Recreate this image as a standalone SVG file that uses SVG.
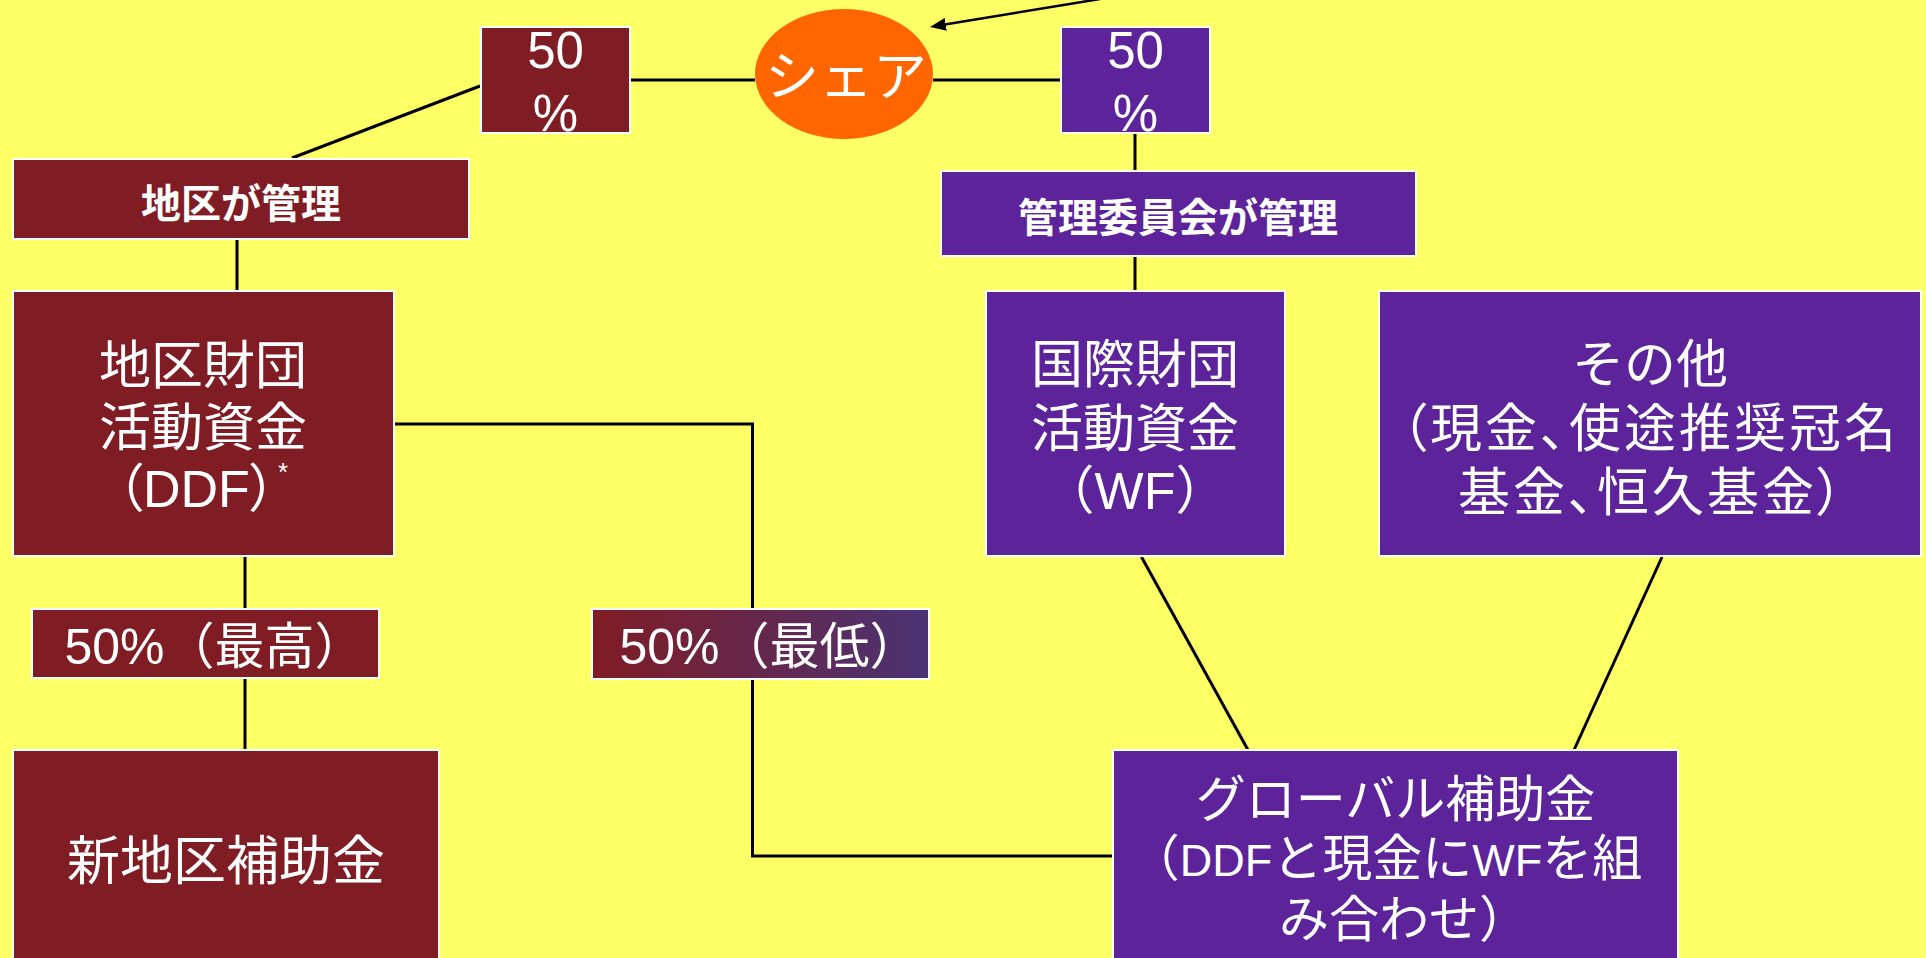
<svg xmlns="http://www.w3.org/2000/svg" width="1926" height="958" viewBox="0 0 1926 958">
<style>
.bg{fill:#FFFF66}
.red{fill:#801C24;stroke:#FFFFFF;stroke-width:2}
.pur{fill:#5D239B;stroke:#FFFFFF;stroke-width:2}
.grad{fill:url(#g1);stroke:#FFFFFF;stroke-width:2}
.conn{stroke:#000000;stroke-width:3;fill:none}
.t{font-family:"Liberation Sans","Noto Sans CJK JP",sans-serif;fill:#FFFFFF}
.c{text-anchor:middle}
.big{font-size:50px}
.bx{font-size:52px}
.b{font-weight:bold;font-size:40px}
.p{font-feature-settings:"palt"}
.ls{letter-spacing:3px}
</style>
<defs>
<linearGradient id="g1" x1="0" y1="0" x2="1" y2="0">
<stop offset="0" stop-color="#801C24"/>
<stop offset="1" stop-color="#4A3374"/>
</linearGradient>
<marker id="ah" markerUnits="userSpaceOnUse" markerWidth="17" markerHeight="14" refX="4" refY="6.5" orient="auto">
<path d="M0,0 L16,6.5 L0,13 Z" fill="#000000"/>
</marker>
</defs>
<rect class="bg" x="0" y="0" width="1926" height="958"/>
<g id="connectors">
<line class="conn" x1="480" y1="86" x2="292" y2="158"/>
<line class="conn" x1="630" y1="80" x2="755" y2="80"/>
<line class="conn" x1="933" y1="80" x2="1061" y2="80"/>
<line class="conn" x1="1135" y1="133" x2="1135" y2="171"/>
<line class="conn" x1="1135" y1="256" x2="1135" y2="291"/>
<line class="conn" x1="237" y1="239" x2="237" y2="291"/>
<line class="conn" x1="245" y1="556" x2="245" y2="609"/>
<line class="conn" x1="245" y1="678" x2="245" y2="750"/>
<polyline class="conn" points="394,424 752.5,424 752.5,609"/>
<polyline class="conn" points="752.5,679 752.5,856 1113,856"/>
<line class="conn" x1="1141.5" y1="557" x2="1248" y2="750"/>
<line class="conn" x1="1662" y1="557" x2="1574" y2="750"/>
<line x1="1100" y1="-1" x2="941.8" y2="25.05" stroke="#000000" stroke-width="2.5" marker-end="url(#ah)"/>
</g>
<g id="share">
<ellipse cx="844" cy="74" rx="89" ry="65" fill="#FF6600"/>
<text class="t c" x="846" y="96" font-size="54">シェア</text>
</g>
<g id="pct-left">
<rect class="red" x="481" y="27" width="149" height="106"/>
<text class="t c" x="555.5" y="68" font-size="51">50</text>
<text class="t c" x="555.5" y="131" font-size="51">%</text>
</g>
<g id="pct-right">
<rect class="pur" x="1061" y="27" width="149" height="106"/>
<text class="t c" x="1135.5" y="68" font-size="51">50</text>
<text class="t c" x="1135.5" y="131" font-size="51">%</text>
</g>
<g id="district-manage">
<rect class="red" x="13" y="159" width="456" height="80"/>
<text class="t c b" x="241" y="218">地区が管理</text>
</g>
<g id="committee-manage">
<rect class="pur" x="941" y="171" width="475" height="85"/>
<text class="t c b" x="1178" y="232">管理委員会が管理</text>
</g>
<g id="ddf">
<rect class="red" x="13" y="291" width="381" height="265"/>
<text class="t c bx" x="203" y="384">地区財団</text>
<text class="t c bx" x="203" y="446">活動資金</text>
<text class="t bx p" x="117" y="507">（DDF）<tspan font-size="26" dx="2" dy="-26">*</tspan></text>
</g>
<g id="wf">
<rect class="pur" x="986" y="291" width="299" height="265"/>
<text class="t c bx" x="1135" y="383">国際財団</text>
<text class="t c bx" x="1135" y="447">活動資金</text>
<text class="t c bx" x="1135" y="509">（WF）</text>
</g>
<g id="other">
<rect class="pur" x="1379" y="291" width="542" height="265"/>
<text class="t c bx" x="1650" y="383">その他</text>
<text class="t c bx p ls" x="1650" y="447">（現金、使途推奨冠名</text>
<text class="t c bx p ls" x="1652" y="511">基金、恒久基金）</text>
</g>
<g id="max50">
<rect class="red" x="32" y="609" width="347" height="69"/>
<text class="t big" x="64.5" y="664">50%（最高）</text>
</g>
<g id="min50">
<rect class="grad" x="592" y="609" width="337" height="70"/>
<text class="t big" x="619.5" y="664">50%（最低）</text>
</g>
<g id="new-district-grant">
<rect class="red" x="13" y="750" width="426" height="212"/>
<text class="t c" x="226" y="880" font-size="53">新地区補助金</text>
</g>
<g id="global-grant">
<rect class="pur" x="1113" y="750" width="565" height="212"/>
<text class="t c big" x="1395.5" y="817">グローバル補助金</text>
<text class="t c big" x="1386" y="876">（<tspan font-size="45">DDF</tspan>と現金に<tspan font-size="45">WF</tspan>を組</text>
<text class="t c big" x="1404" y="937">み合わせ）</text>
</g>
</svg>
